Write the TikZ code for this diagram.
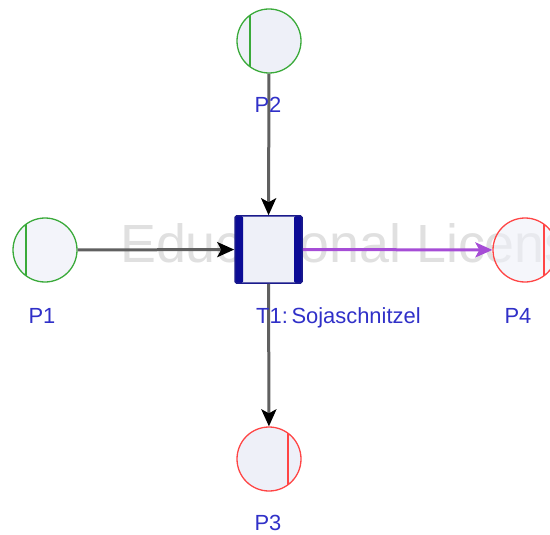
\documentclass[tikz,border=0pt]{standalone}
\usepackage{fontspec}
\setmainfont{Liberation Sans}
\usetikzlibrary{arrows.meta,calc}
\definecolor{placefill}{HTML}{EEF0F8}
\definecolor{okgreen}{HTML}{3AAA3A}
\definecolor{outred}{HTML}{FF4545}
\definecolor{labelblue}{HTML}{3030C8}
\definecolor{transblue}{HTML}{1A1A8C}
\definecolor{barblue}{HTML}{0C0C96}
\definecolor{arcgray}{HTML}{606060}
\definecolor{arcpurple}{HTML}{A64DD6}
\definecolor{wmark}{HTML}{E0E0E0}
\tikzset{
  place/.style={circle, draw=#1, line width=1.3bp, fill=placefill,
    minimum size=64bp, inner sep=0pt},
  chordleft/.style={path picture={\draw[#1, line width=1.3bp]
    ([xshift=-19bp]path picture bounding box.north) --
    ([xshift=-19bp]path picture bounding box.south);}},
  chordright/.style={path picture={\draw[#1, line width=1.3bp]
    ([xshift=19bp]path picture bounding box.north) --
    ([xshift=19bp]path picture bounding box.south);}},
  transition/.style={rectangle, draw=transblue, line width=1.5bp, fill=placefill,
    minimum size=67bp, inner sep=0pt, rounded corners=1.5bp,
    path picture={
      \fill[barblue] (path picture bounding box.north west) rectangle
        ([xshift=8bp]path picture bounding box.south west);
      \fill[barblue] ([xshift=-8bp]path picture bounding box.north east) rectangle
        (path picture bounding box.south east);}},
  lbl/.style={anchor=base, text=labelblue, font=\fontsize{22}{24}\selectfont, inner sep=0pt},
  arc/.style={draw=arcgray, line width=3bp,
    -{Stealth[length=17bp, width=15bp, inset=4bp, color=black]}},
  outarc/.style={draw=arcpurple, line width=3bp,
    -{Stealth[length=17bp, width=15bp, inset=4bp]}},
}
\begin{document}
\begin{tikzpicture}[x=1bp, y=-1bp]
  \useasboundingbox (0,0) rectangle (550,535);
  \clip (0,0) rectangle (550,535);
  % watermark behind the net
  \node[anchor=base west, inner sep=0pt, text=wmark,
        font=\fontsize{54}{54}\selectfont] (wm) at (120,262) {Educational License};
  % places
  \node[place=okgreen, chordleft=okgreen, fill opacity=0.7, draw opacity=1] (P1) at (45,250) {};
  \node[place=okgreen, chordleft=okgreen] (P2) at (269,41) {};
  \node[place=outred, chordright=outred] (P3) at (269,459) {};
  \node[place=outred, chordright=outred, fill opacity=0.6, draw opacity=1] (P4) at (525,250) {};
  % transition
  \node[transition] (T1) at (268.5,249.5) {};
  % arcs
  \draw[arc] (P1) -- (T1);
  \draw[arc] (P2) -- (T1);
  \draw[arc] (T1) -- (P3);
  \draw[outarc] (T1) -- (P4);
  % labels
  \node[lbl] (P1l) at (42,323) {P1};
  \node[lbl] (P2l) at (268,113) {P2};
  \node[lbl] (P3l) at (268,530) {P3};
  \node[lbl] (P4l) at (518,323) {P4};
  \node[lbl, anchor=base west] (T1l) at (256,323) {T1:\,Sojaschnitzel};
\end{tikzpicture}
\end{document}
